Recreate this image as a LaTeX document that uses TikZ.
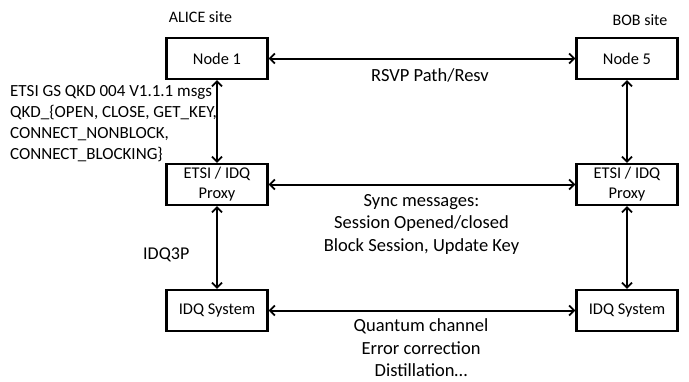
\documentclass[tikz,border=0pt]{standalone}
\usepackage{fontspec}
\setmainfont{Carlito}
\usetikzlibrary{arrows.meta}
\begin{document}
\begin{tikzpicture}[x=1pt,y=-1pt,
  box/.style={draw,line width=2.2pt,minimum width=101pt,minimum height=41pt,inner sep=0pt,font=\fontsize{16.4}{20}\selectfont,align=center},
  conn/.style={line width=2pt,{Straight Barb[length=5pt,width=10pt,line width=1.8pt]}-{Straight Barb[length=5pt,width=10pt,line width=1.8pt]}},
  lbl/.style={inner sep=0pt,align=center,font=\fontsize{18.5}{22.5}\selectfont},
  site/.style={inner sep=0pt,font=\fontsize{16}{19}\selectfont}]
\useasboundingbox (0,0) rectangle (689,381);
\node[box] (n1) at (217,58.5) {Node 1};
\node[box] (n5) at (627,58.5) {Node 5};
\node[box] (p1) at (217,184.5) {ETSI / IDQ\\Proxy};
\node[box] (p5) at (627,184.5) {ETSI / IDQ\\Proxy};
\node[box] (s1) at (217,310.5) {IDQ System};
\node[box] (s5) at (627,310.5) {IDQ System};
\draw[conn] (n1) -- (n5);
\draw[conn] (p1) -- (p5);
\draw[conn] (s1) -- (s5);
\draw[conn] (n1) -- (p1);
\draw[conn] (p1) -- (s1);
\draw[conn] (n5) -- (p5);
\draw[conn] (p5) -- (s5);
\node[site] (alice) at (200.5,17) {ALICE site};
\node[site] (bob) at (640,20) {BOB site};
\node[lbl] (rsvp) at (430,75) {RSVP Path/Resv};
\node[lbl] (sync) at (421.5,224) {Sync messages:\\Session Opened/closed\\Block Session, Update Key};
\node[lbl] (qc) at (421,348) {Quantum channel\\Error correction\\Distillation…};
\node[lbl,anchor=west,font=\fontsize{18}{21}\selectfont] (idq3p) at (143,255) {IDQ3P};
\node[inner sep=0pt,anchor=west,align=left,font=\fontsize{17}{21}\selectfont] (etsi) at (10,124) {ETSI GS QKD 004 V1.1.1 msgs\\QKD\_\{OPEN, CLOSE, GET\_KEY,\\CONNECT\_NONBLOCK,\\CONNECT\_BLOCKING\}};
\end{tikzpicture}
\end{document}
